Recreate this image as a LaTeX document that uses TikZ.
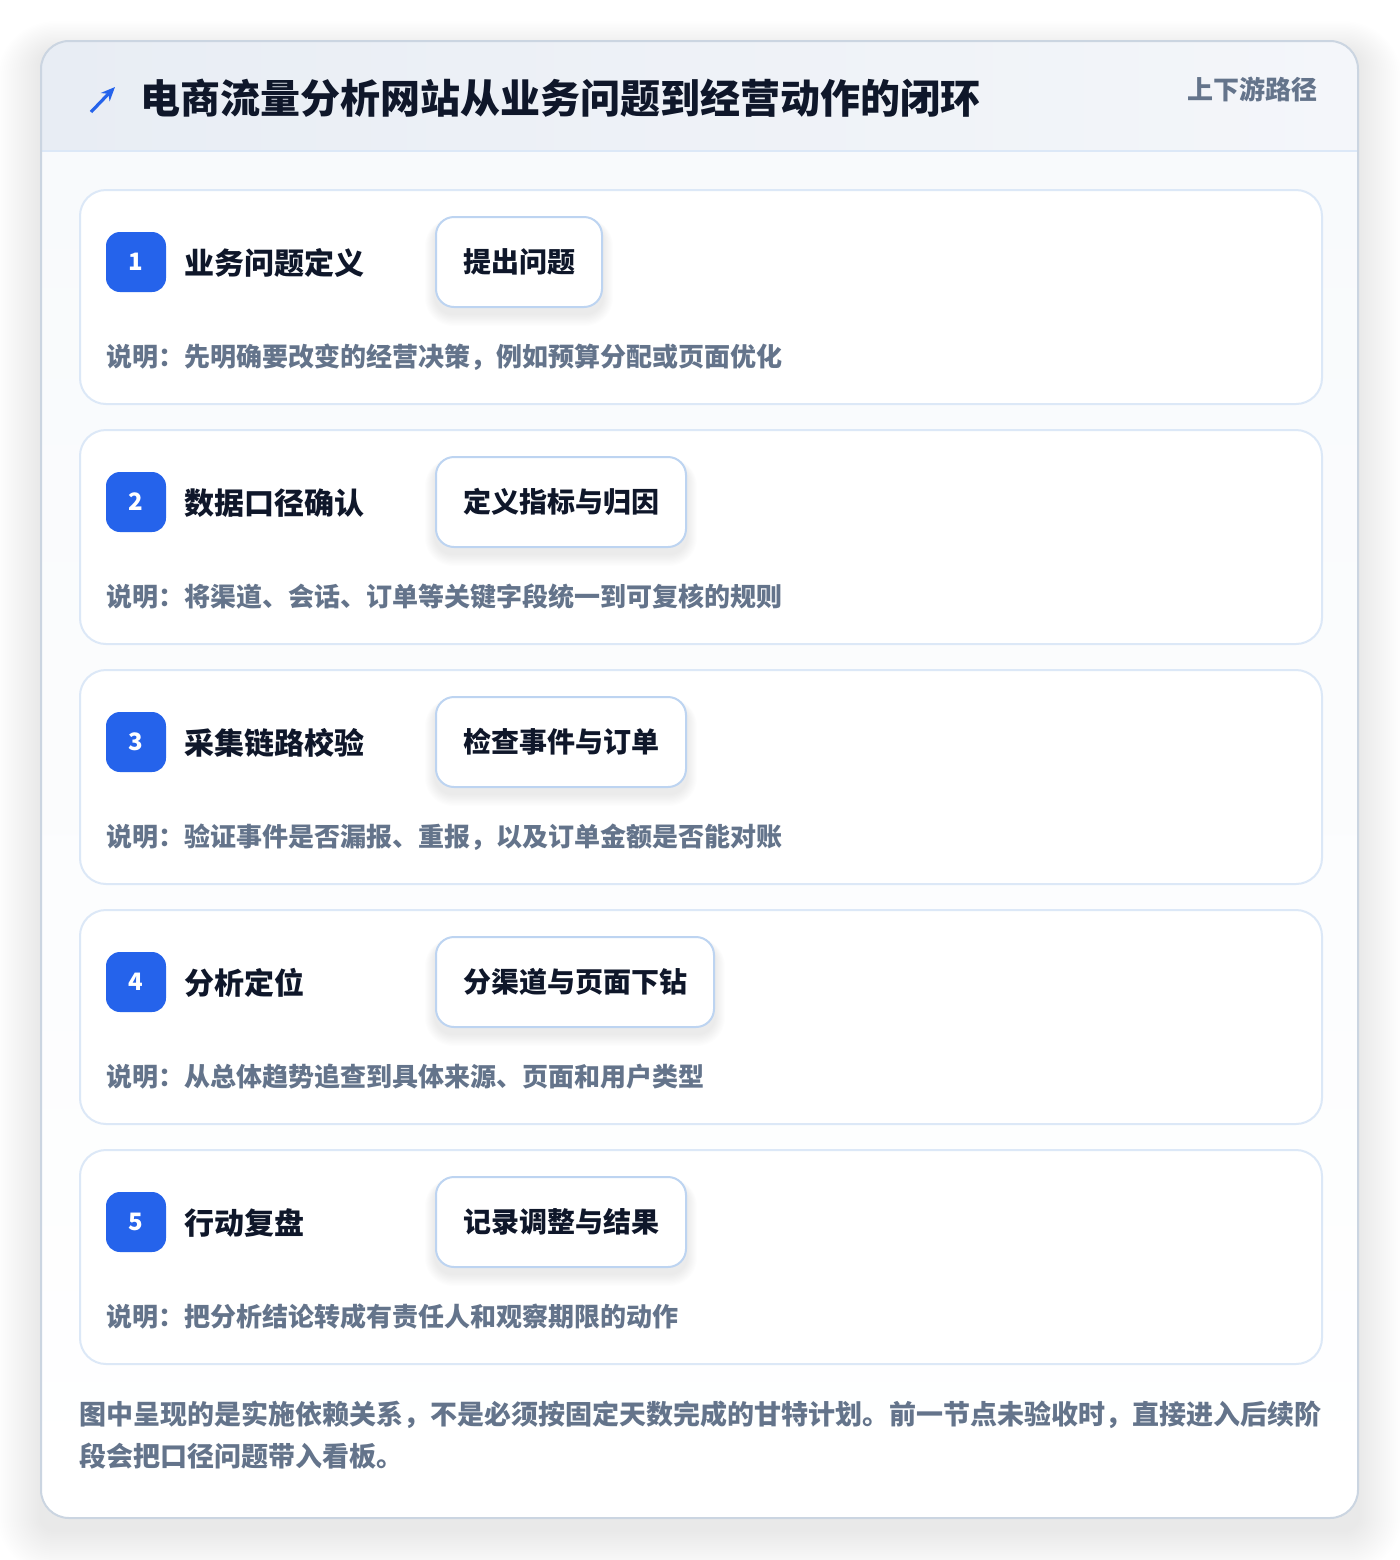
\documentclass[tikz,border=0pt]{standalone}
\usepackage{fontspec}
\setmainfont{Noto Sans CJK SC}
\usetikzlibrary{arrows.meta}
\definecolor{ink}{HTML}{0F172A}
\definecolor{muted}{HTML}{64748B}
\definecolor{brand}{HTML}{2563EB}
\definecolor{outerline}{HTML}{CBD5E1}
\definecolor{cardline}{HTML}{DCE8F7}
\definecolor{pillline}{HTML}{BDD4F1}
\definecolor{bodybg}{HTML}{F8FAFC}
\definecolor{headL}{HTML}{E8EDF4}
\definecolor{headR}{HTML}{F4F6FA}
\definecolor{shadowc}{HTML}{1E293B}
\pgfdeclarelayer{cardlayer}
\pgfdeclarelayer{shadlayer}
\pgfsetlayers{cardlayer,shadlayer,main}
\tikzset{
  cardbox/.style={draw=cardline, line width=1pt, fill=white, rounded corners=13pt,
    minimum width=621pt, minimum height=107pt, anchor=north west, inner sep=0pt},
  badge/.style={fill=brand, rounded corners=7pt, minimum size=30pt, inner sep=0pt,
    text=white, font=\fontsize{12}{13}\selectfont\bfseries},
  steptitle/.style={anchor=west, inner sep=0pt, text=ink, font=\fontsize{15}{18}\selectfont\bfseries},
  pill/.style={draw=pillline, line width=1pt, fill=white, rounded corners=9pt,
    minimum height=45pt, inner xsep=13.5pt, anchor=west, text=ink,
    font=\fontsize{14}{17}\selectfont\bfseries},
  desc/.style={anchor=west, inner sep=0pt, text=muted, font=\fontsize{13}{16}\selectfont\bfseries},
  note/.style={anchor=west, inner sep=0pt, text=muted, font=\fontsize{13.5}{17}\selectfont\bfseries},
  softshade/.style={fill=shadowc, opacity=#1},
}
\begin{document}
\begin{tikzpicture}[x=0.5pt,y=-0.5pt]
\begin{pgfonlayer}{cardlayer}
\useasboundingbox (0,0) rectangle (1400,1560);
\fill[white] (0,0) rectangle (1400,1560);
% outer shadow
\foreach \k in {1,...,22}{
  \pgfmathsetmacro\rr{7+\k}
  \fill[softshade=0.0055, rounded corners=\rr pt]
    (41-2*\k,52-1.4*\k) rectangle (1358+2*\k,1530+2*\k);
}
% outer frame
\path[fill=bodybg, rounded corners=14pt] (41,41) rectangle (1358,1518);
\begin{scope}
  \clip[rounded corners=14pt] (41,41) rectangle (1358,1518);
  \shade[top color=bodybg, bottom color=white] (41,151) rectangle (1358,1518);
  \shade[left color=headL, right color=headR] (41,41) rectangle (1358,151);
\end{scope}
\draw[cardline, line width=1pt] (41,151) -- (1358,151);
\draw[outerline, line width=1pt, rounded corners=14pt] (41,41) rectangle (1358,1518);
\end{pgfonlayer}
% header
\coordinate (ar1) at (91,112);
\coordinate (ar2) at (115,87);
\draw[brand, line width=1.6pt, -{Stealth[length=7pt,width=6pt]}] (ar1) -- (ar2);
\node[anchor=west, inner sep=0pt, text=ink, font=\fontsize{20}{24}\selectfont\bfseries] (title) at (140,98)
  {电商流量分析网站从业务问题到经营动作的闭环};
\node[anchor=east, inner sep=0pt, text=muted, font=\fontsize{13}{16}\selectfont\bfseries] (tag) at (1318,89)
  {上下游路径};
% cards
\foreach \n/\t/\p/\d [count=\i from 0] in {
  1/业务问题定义/提出问题/说明：先明确要改变的经营决策，例如预算分配或页面优化,
  2/数据口径确认/定义指标与归因/说明：将渠道、会话、订单等关键字段统一到可复核的规则,
  3/采集链路校验/检查事件与订单/说明：验证事件是否漏报、重报，以及订单金额是否能对账,
  4/分析定位/分渠道与页面下钻/说明：从总体趋势追查到具体来源、页面和用户类型,
  5/行动复盘/记录调整与结果/说明：把分析结论转成有责任人和观察期限的动作}{
  \pgfmathsetmacro\yy{189+240*\i}
  \begin{pgfonlayer}{cardlayer}
    \node[cardbox] (card\n) at (79,\yy) {};
  \end{pgfonlayer}
  \node[badge] (badge\n) at (136,\yy+73) {\n};
  \node[steptitle] (title\n) at (184,\yy+74) {\t};
  \node[pill] (pill\n) at (435,\yy+73) {\p};
  \node[desc] (desc\n) at (106,\yy+168) {\d};
  \begin{pgfonlayer}{shadlayer}
    \foreach \k in {1,...,10}{
      \pgfmathsetmacro\rs{9+0.5*\k}
      \fill[softshade=0.006, rounded corners=\rs pt]
        ([xshift=-0.5*\k pt, yshift=-3pt+0.2*\k pt]pill\n.north west)
        rectangle ([xshift=0.5*\k pt, yshift=-3pt-0.6*\k pt]pill\n.south east);
    }
  \end{pgfonlayer}
}
% footer note
\node[note] (note1) at (79,1415) {图中呈现的是实施依赖关系，不是必须按固定天数完成的甘特计划。前一节点未验收时，直接进入后续阶};
\node[note] (note2) at (79,1456) {段会把口径问题带入看板。};
\end{tikzpicture}
\end{document}
